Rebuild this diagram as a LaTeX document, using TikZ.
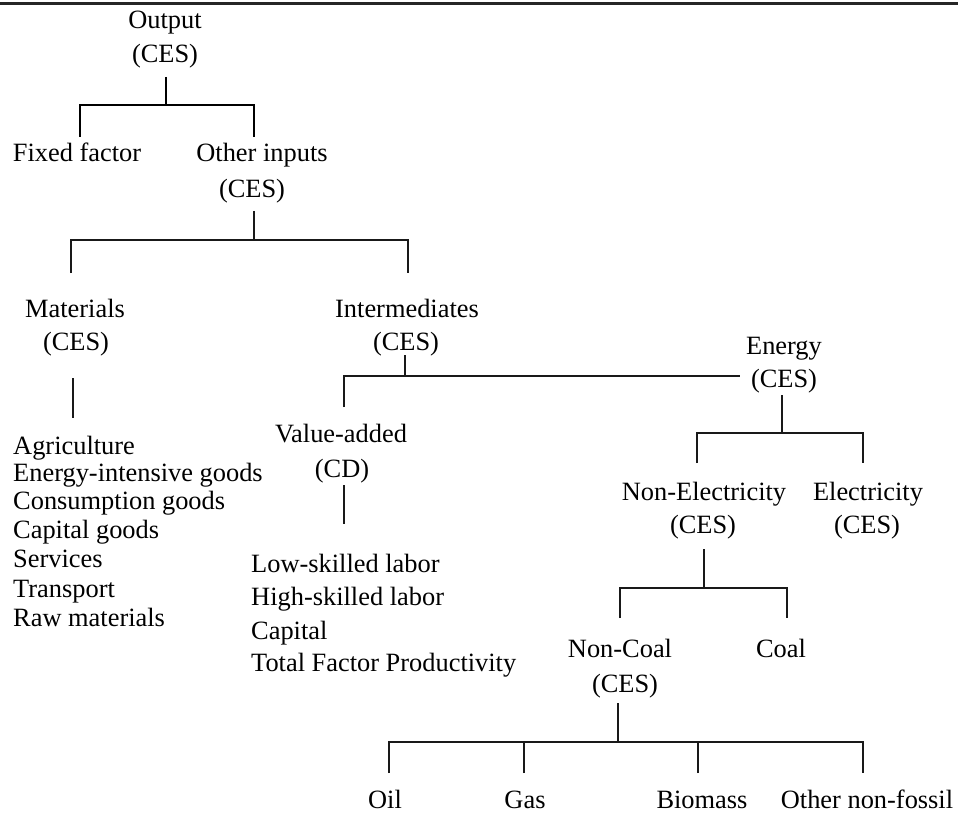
\documentclass[tikz,border=0pt]{standalone}
\usepackage{fontspec}
\setmainfont{Liberation Serif}
\begin{document}
\tikzset{
  lbl/.style={anchor=base, inner sep=0pt, font=\fontsize{26.4}{30}\selectfont},
  lst/.style={anchor=base west, inner sep=0pt, font=\fontsize{26.4}{30}\selectfont},
  conn/.style={line width=1.2pt, draw=black!90},
  connb/.style={line width=1.7pt, draw=black},
  toprule/.style={line width=2.6pt, draw=black!85}
}
\begin{tikzpicture}[x=1pt,y=-1pt]
\useasboundingbox (0,0) rectangle (958,813);
% top rule
\coordinate (rl) at (0,3.3);
\coordinate (rr) at (958,3.3);
\draw[toprule] (rl) -- (rr);

% labels
\node[lbl] (out)  at (165,29)  {Output};
\node[lbl] (outc) at (165,63)  {(CES)};
\node[lbl] (ff)   at (77,162)  {Fixed factor};
\node[lbl] (oi)   at (262,162) {Other inputs};
\node[lbl] (oic)  at (252,197) {(CES)};
\node[lbl] (mat)  at (75,317)  {Materials};
\node[lbl] (matc) at (76,350)  {(CES)};
\node[lbl] (int)  at (407,317) {Intermediates};
\node[lbl] (intc) at (406,350) {(CES)};
\node[lbl] (en)   at (784,354) {Energy};
\node[lbl] (enc)  at (784,387) {(CES)};
\node[lbl] (va)   at (341,442) {Value-added};
\node[lbl] (vac)  at (342,477) {(CD)};
\node[lbl] (ne)   at (704,500) {Non-Electricity};
\node[lbl] (nec)  at (703,533) {(CES)};
\node[lbl] (el)   at (868,500) {Electricity};
\node[lbl] (elc)  at (867,533) {(CES)};
\node[lbl] (nc)   at (620,657) {Non-Coal};
\node[lbl] (ncc)  at (625,692) {(CES)};
\node[lbl] (coal) at (781,657) {Coal};
\node[lbl] (oil)  at (385,808) {Oil};
\node[lbl] (gas)  at (525,808) {Gas};
\node[lbl] (bio)  at (702,808) {Biomass};
\node[lbl] (onf)  at (867,808) {Other non-fossil};

% materials list
\node[lst] (m1) at (13,454) {Agriculture};
\node[lst] (m2) at (13,481) {Energy-intensive goods};
\node[lst] (m3) at (13,509) {Consumption goods};
\node[lst] (m4) at (13,538) {Capital goods};
\node[lst] (m5) at (13,567) {Services};
\node[lst] (m6) at (13,597) {Transport};
\node[lst] (m7) at (13,626) {Raw materials};

% value-added list
\node[lst] (v1) at (251,572) {Low-skilled labor};
\node[lst] (v2) at (251,605) {High-skilled labor};
\node[lst] (v3) at (251,639) {Capital};
\node[lst] (v4) at (251,671) {Total Factor Productivity};

% bracket: Output
\coordinate (s1) at (166,77);  \coordinate (j1) at (166,105);
\coordinate (d1a) at (80,137); \coordinate (d1b) at (254,137);
\draw[connb] (s1) -- (j1);
\draw[connb] (d1a) |- (j1) -| (d1b);

% bracket: Other inputs
\coordinate (s2) at (254,211); \coordinate (j2) at (254,240);
\coordinate (d2a) at (71,273); \coordinate (d2b) at (408,273);
\draw[conn] (s2) -- (j2);
\draw[conn] (d2a) |- (j2) -| (d2b);

% Materials stem
\coordinate (s3) at (73,378); \coordinate (e3) at (73,418);
\draw[conn] (s3) -- (e3);

% bracket: Intermediates
\coordinate (s4) at (405,355); \coordinate (j4) at (405,376);
\coordinate (d4a) at (344,407); \coordinate (e4) at (740,376);
\draw[conn] (s4) -- (j4);
\draw[conn] (d4a) |- (j4) -- (e4);

% Value-added stem
\coordinate (s5) at (344,485); \coordinate (e5) at (344,524);
\draw[conn] (s5) -- (e5);

% bracket: Energy
\coordinate (s6) at (782,395); \coordinate (j6) at (782,433);
\coordinate (d6a) at (697,463); \coordinate (d6b) at (863,463);
\draw[conn] (s6) -- (j6);
\draw[conn] (d6a) |- (j6) -| (d6b);

% bracket: Non-Electricity
\coordinate (s7) at (704,549); \coordinate (j7) at (704,588);
\coordinate (d7a) at (620,618); \coordinate (d7b) at (787,618);
\draw[conn] (s7) -- (j7);
\draw[conn] (d7a) |- (j7) -| (d7b);

% bracket: Non-Coal
\coordinate (s8) at (618,703); \coordinate (j8) at (618,742);
\coordinate (d8a) at (389,773); \coordinate (d8b) at (524,773);
\coordinate (d8c) at (698,773); \coordinate (d8d) at (863,773);
\draw[conn] (s8) -- (j8);
\draw[conn] (d8a) |- (j8) -| (d8d);
\draw[conn] (d8b) -- (d8b |- j8);
\draw[conn] (d8c) -- (d8c |- j8);
\end{tikzpicture}
\end{document}
